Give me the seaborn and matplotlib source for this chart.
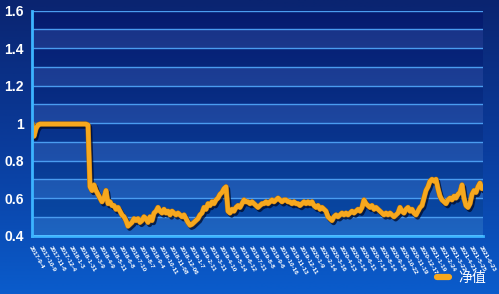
import numpy as np
import pandas as pd
import matplotlib
matplotlib.use("Agg")
import matplotlib.pyplot as plt
import matplotlib.patheffects as pe
from matplotlib.colors import LinearSegmentedColormap
import seaborn as sns

# ---- data ----
nav_values = [
    1.00, 0.93, 0.97, 0.99, 0.995, 0.995, 0.995, 0.995, 0.995, 0.995,
    0.995, 0.995, 0.995, 0.995, 0.995, 0.995, 0.995, 0.995, 0.995, 0.995,
    0.995, 0.995, 0.995, 0.995, 0.995, 0.995, 0.995, 0.995, 0.99, 0.66,
    0.64, 0.67, 0.64, 0.62, 0.60, 0.58, 0.60, 0.64, 0.57, 0.58,
    0.56, 0.56, 0.54, 0.55, 0.53, 0.51, 0.50, 0.48, 0.45, 0.46,
    0.47, 0.49, 0.48, 0.49, 0.47, 0.48, 0.50, 0.49, 0.47, 0.50,
    0.48, 0.52, 0.53, 0.55, 0.53, 0.52, 0.54, 0.52, 0.53, 0.51,
    0.53, 0.52, 0.51, 0.52, 0.51, 0.50, 0.51, 0.49, 0.47, 0.455,
    0.46, 0.47, 0.48, 0.49, 0.51, 0.52, 0.55, 0.54, 0.57, 0.56,
    0.58, 0.57, 0.59, 0.60, 0.62, 0.63, 0.65, 0.66, 0.53, 0.52,
    0.54, 0.53, 0.55, 0.56, 0.55, 0.57, 0.59, 0.58, 0.58, 0.57,
    0.58, 0.57, 0.56, 0.55, 0.56, 0.57, 0.57, 0.58, 0.57, 0.58,
    0.59, 0.58, 0.59, 0.60, 0.59, 0.58, 0.59, 0.59, 0.58, 0.58,
    0.57, 0.58, 0.57, 0.57, 0.56, 0.57, 0.58, 0.57, 0.58, 0.57,
    0.58, 0.56, 0.55, 0.56, 0.54, 0.55, 0.54, 0.53, 0.50, 0.49,
    0.48, 0.50, 0.51, 0.50, 0.51, 0.52, 0.51, 0.52, 0.51, 0.52,
    0.53, 0.52, 0.53, 0.54, 0.53, 0.55, 0.59, 0.57, 0.56, 0.55,
    0.56, 0.54, 0.55, 0.54, 0.53, 0.52, 0.51, 0.52, 0.51, 0.52,
    0.51, 0.50, 0.51, 0.52, 0.55, 0.53, 0.52, 0.54, 0.55, 0.53,
    0.54, 0.52, 0.51, 0.53, 0.55, 0.56, 0.60, 0.64, 0.66, 0.69,
    0.70, 0.69, 0.70, 0.65, 0.61, 0.59, 0.58, 0.57, 0.59, 0.60,
    0.59, 0.61, 0.60, 0.62, 0.63, 0.67, 0.60, 0.56, 0.55, 0.57,
    0.62, 0.64, 0.63, 0.66, 0.68, 0.65,
]

date_labels = [
    "2017-9-4", "2017-10-9", "2017-11-6", "2017-12-4", "2018-1-3", "2018-1-31",
    "2018-3-9", "2018-4-9", "2018-5-11", "2018-6-8", "2018-7-10", "2018-8-7",
    "2018-9-4", "2018-10-11", "2018-11-08", "2018-12-06", "2019-1-7", "2019-2-11",
    "2019-3-11", "2019-4-10", "2019-5-14", "2019-6-12", "2019-7-11", "2019-8-8",
    "2019-9-6", "2019-10-16", "2019-11-13", "2019-12-11", "2020-1-9", "2020-2-14",
    "2020-3-16", "2020-4-13", "2020-5-14", "2020-6-11", "2020-7-14", "2020-8-14",
    "2020-9-16", "2020-10-22", "2020-11-19", "2020-12-17", "2021-1-19", "2021-2-24",
    "2021-3-22", "2021-4-21", "2021-5-25", "2021-6-23",
]
series_name = "净值"
y_ticks = [0.4, 0.6, 0.8, 1.0, 1.2, 1.4, 1.6]

df = pd.DataFrame({"idx": np.arange(len(nav_values)), "nav": nav_values})

# ---- figure ----
sns.set_theme(style="white")
plt.rcParams["font.family"] = ["Liberation Sans", "Noto Sans CJK SC", "DejaVu Sans"]

W, H = 499, 294
fig = plt.figure(figsize=(W / 100, H / 100), dpi=100)

# background gradient over the full figure
bg = fig.add_axes([0, 0, 1, 1], zorder=-10)
bg_cmap = LinearSegmentedColormap.from_list("bg", ["#0a2470", "#0a3c9c", "#0a5ccc"])
grad = np.linspace(0, 1, 256).reshape(-1, 1)
bg.imshow(grad, aspect="auto", cmap=bg_cmap, extent=[0, 1, 0, 1], origin="upper")
bg.axis("off")

ax = fig.add_axes([32 / W, 1 - 235.5 / H, (483 - 32) / W, (235.5 - 10.7) / H])
ax.set_xlim(0, 225.5)
ax.set_ylim(0.4, 1.6)

# plot area gradient
pa_cmap = LinearSegmentedColormap.from_list("pa", ["#061e78", "#0a3898", "#0b58bc"])
ax.imshow(grad, aspect="auto", cmap=pa_cmap, extent=[0, 225.5, 0.4, 1.6],
          origin="upper", zorder=0)
# alternating bands
for k in range(12):
    lo = 0.4 + k * 0.1
    if k % 2 == 0:
        ax.axhspan(lo, lo + 0.1, color="white", alpha=0.08, lw=0, zorder=0.5)
    else:
        ax.axhspan(lo, lo + 0.1, color="#000830", alpha=0.14, lw=0, zorder=0.5)
for k in range(1, 13):
    ax.axhline(0.4 + k * 0.1, color="#4a9cf0", lw=1.0, zorder=1)

sns.lineplot(data=df, x="idx", y="nav", ax=ax, color="#f7a81e", lw=3.2,
             label=series_name, zorder=5)
line = ax.lines[-1]
line.set_solid_joinstyle("round")
line.set_path_effects([pe.SimpleLineShadow(offset=(1.2, -1.6), shadow_color="#000a28",
                                           alpha=0.75, linewidth=3.6),
                       pe.Stroke(linewidth=3.8, foreground="#a86a10"),
                       pe.Normal()])

# axes styling
for s in ["top", "right"]:
    ax.spines[s].set_visible(False)
for s in ["left", "bottom"]:
    ax.spines[s].set_color("#3cb4ff")
    ax.spines[s].set_linewidth(2.0)
    ax.spines[s].set_zorder(6)

ax.set_yticks(y_ticks)
ax.set_yticklabels([f"{v:g}" for v in y_ticks], color="white", fontsize=10,
                   fontweight="bold")
tick_pos = list(range(0, len(nav_values), 5))
ax.set_xticks(tick_pos)
ax.set_xticklabels(date_labels, rotation=-60, ha="left", rotation_mode="anchor",
                   fontsize=4.6, color="white", fontweight="bold")
ax.tick_params(axis="x", direction="out", length=4, width=1.5, color="#3cb4ff", pad=3)
ax.tick_params(axis="y", direction="out", length=4, width=1.5, color="#3cb4ff", pad=2)
ax.set_xlabel("")
ax.set_ylabel("")

leg = ax.legend(loc="lower right", bbox_to_anchor=(1.0, -0.012),
                bbox_transform=fig.transFigure, frameon=False, fontsize=10,
                handlelength=0.9, handletextpad=0.7)
for t in leg.get_texts():
    t.set_color("white")
    t.set_family(["Noto Sans CJK SC", "DejaVu Sans"])
for h in leg.legend_handles:
    h.set_linewidth(4.5)
    h.set_solid_capstyle("round")
    h.set_path_effects([])

fig.savefig("out.png", dpi=100, facecolor=fig.get_facecolor())
